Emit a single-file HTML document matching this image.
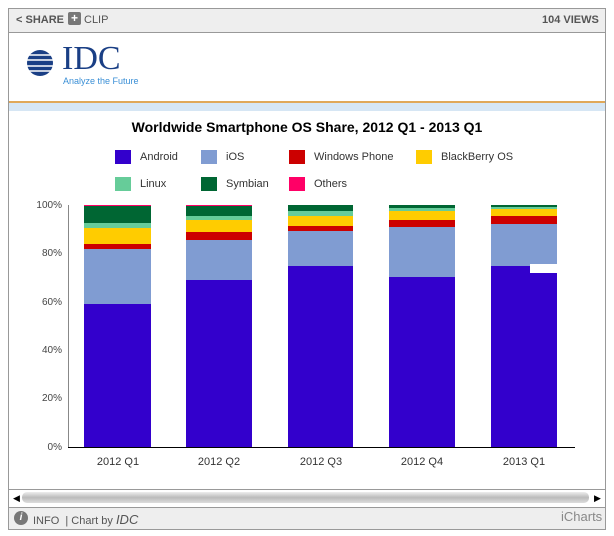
<!DOCTYPE html>
<html><head><style>
body{margin:0;width:614px;height:536px;background:#fff;font-family:"Liberation Sans",sans-serif;position:relative;overflow:hidden}
.a{position:absolute}
</style></head><body>
<div class="a" style="left:8px;top:8px;width:598px;height:522px;border:1px solid #999;box-sizing:border-box"></div>
<div class="a" style="left:9px;top:9px;width:596px;height:23px;background:#eee;border-bottom:1px solid #999"></div>
<div class="a" style="left:16px;top:14px;font-size:11px;color:#555;font-weight:bold">&lt; SHARE</div>
<div class="a" style="left:68px;top:12px;width:13px;height:13px;background:#777;border-radius:2px;color:#fff;font-size:12px;line-height:13px;text-align:center;font-weight:bold">+</div>
<div class="a" style="left:84px;top:14px;font-size:11px;color:#555">CLIP</div>
<div class="a" style="left:542px;top:14px;font-size:11px;color:#555;font-weight:bold">104 VIEWS</div>
<svg class="a" style="left:20px;top:45px" width="40" height="40"><circle cx="20" cy="18" r="13" fill="#1a3f85"/><g stroke="#fff" stroke-width="1.5"><line x1="0" y1="10" x2="40" y2="10"/><line x1="0" y1="15" x2="40" y2="15"/><line x1="0" y1="21" x2="40" y2="21"/><line x1="0" y1="26" x2="40" y2="26"/></g></svg>
<div class="a" style="left:62px;top:40px;font-family:'Liberation Serif',serif;font-size:34px;color:#1a3f85">IDC</div>
<div class="a" style="left:63px;top:76px;font-size:9px;color:#3a8fd6">Analyze the Future</div>
<div class="a" style="left:9px;top:101px;width:596px;height:2px;background:#e0a858"></div>
<div class="a" style="left:9px;top:103px;width:596px;height:8px;background:#d6e6f4"></div>
<div class="a" style="left:0;width:614px;top:119px;text-align:center;font-size:14px;font-weight:bold;color:#000">Worldwide Smartphone OS Share, 2012 Q1 - 2013 Q1</div>
<div class="a" style="font-size:11px;color:#333;top:150px;left:0;width:614px;height:50px">
<div class="a" style="left:115px;top:0;width:16px;height:14px;background:#3300cc"></div><div class="a" style="left:140px;top:1px">Android</div>
<div class="a" style="left:201px;top:0;width:16px;height:14px;background:#809cd2"></div><div class="a" style="left:226px;top:1px">iOS</div>
<div class="a" style="left:289px;top:0;width:16px;height:14px;background:#cc0000"></div><div class="a" style="left:314px;top:1px">Windows Phone</div>
<div class="a" style="left:416px;top:0;width:16px;height:14px;background:#ffcc00"></div><div class="a" style="left:441px;top:1px">BlackBerry OS</div>
<div class="a" style="left:115px;top:27px;width:16px;height:14px;background:#66cc99"></div><div class="a" style="left:140px;top:28px">Linux</div>
<div class="a" style="left:201px;top:27px;width:16px;height:14px;background:#006633"></div><div class="a" style="left:226px;top:28px">Symbian</div>
<div class="a" style="left:289px;top:27px;width:16px;height:14px;background:#ff0066"></div><div class="a" style="left:314px;top:28px">Others</div>
</div>
<svg class="a" style="left:0;top:0" width="614" height="536" font-family="Liberation Sans" font-size="10" fill="#444">
<line x1="68.5" y1="205" x2="68.5" y2="447" stroke="#888"/>
<line x1="68" y1="447.5" x2="575" y2="447.5" stroke="#000"/>
<g text-anchor="end"><text x="62" y="208">100%</text><text x="62" y="256">80%</text><text x="62" y="305">60%</text><text x="62" y="353">40%</text><text x="62" y="401">20%</text><text x="62" y="450">0%</text></g>
<g text-anchor="middle" font-size="11" fill="#333"><text x="118" y="465">2012 Q1</text><text x="219" y="465">2012 Q2</text><text x="321" y="465">2012 Q3</text><text x="422" y="465">2012 Q4</text><text x="524" y="465">2013 Q1</text></g>
<rect x="84" y="205" width="67" height="1" fill="#ff0066"/><rect x="84" y="206" width="67" height="17" fill="#006633"/><rect x="84" y="223" width="67" height="5" fill="#66cc99"/><rect x="84" y="228" width="67" height="16" fill="#ffcc00"/><rect x="84" y="244" width="67" height="5" fill="#cc0000"/><rect x="84" y="249" width="67" height="55" fill="#809cd2"/><rect x="84" y="304" width="67" height="143" fill="#3300cc"/>
<rect x="186" y="205" width="66" height="1" fill="#ff0066"/><rect x="186" y="206" width="66" height="10" fill="#006633"/><rect x="186" y="216" width="66" height="4" fill="#66cc99"/><rect x="186" y="220" width="66" height="12" fill="#ffcc00"/><rect x="186" y="232" width="66" height="8" fill="#cc0000"/><rect x="186" y="240" width="66" height="40" fill="#809cd2"/><rect x="186" y="280" width="66" height="167" fill="#3300cc"/>
<rect x="288" y="205" width="65" height="6" fill="#006633"/><rect x="288" y="211" width="65" height="5" fill="#66cc99"/><rect x="288" y="216" width="65" height="10" fill="#ffcc00"/><rect x="288" y="226" width="65" height="5" fill="#cc0000"/><rect x="288" y="231" width="65" height="35" fill="#809cd2"/><rect x="288" y="266" width="65" height="181" fill="#3300cc"/>
<rect x="389" y="205" width="66" height="3" fill="#006633"/><rect x="389" y="208" width="66" height="3" fill="#66cc99"/><rect x="389" y="211" width="66" height="9" fill="#ffcc00"/><rect x="389" y="220" width="66" height="7" fill="#cc0000"/><rect x="389" y="227" width="66" height="50" fill="#809cd2"/><rect x="389" y="277" width="66" height="170" fill="#3300cc"/>
<rect x="491" y="205" width="66" height="2" fill="#006633"/><rect x="491" y="207" width="66" height="2" fill="#66cc99"/><rect x="491" y="209" width="66" height="7" fill="#ffcc00"/><rect x="491" y="216" width="66" height="8" fill="#cc0000"/><rect x="491" y="224" width="66" height="42" fill="#809cd2"/><rect x="491" y="266" width="66" height="181" fill="#3300cc"/>
<rect x="530" y="264" width="27" height="9" fill="#fff"/>
</svg>
<div class="a" style="left:9px;top:489px;width:596px;height:1px;background:#999"></div>
<div class="a" style="left:22px;top:492px;width:567px;height:11px;border-radius:5px;background:linear-gradient(#eee,#bbb,#ddd)"></div>
<div class="a" style="left:13px;top:493px;font-size:9px;color:#000">◀</div>
<div class="a" style="left:594px;top:493px;font-size:9px;color:#000">▶</div>
<div class="a" style="left:9px;top:507px;width:596px;height:22px;background:#eee;border-top:1px solid #999;box-sizing:border-box"></div>
<div class="a" style="left:14px;top:511px;width:14px;height:14px;border-radius:7px;background:#777;color:#fff;font-size:10px;text-align:center;line-height:14px;font-weight:bold;font-style:italic">i</div>
<div class="a" style="left:33px;top:512px;font-size:11px;color:#555">INFO &nbsp;| Chart by <i style="font-size:13px">IDC</i></div>
<div class="a" style="left:561px;top:509px;font-size:13px;color:#888">iCharts</div>
</body></html>
